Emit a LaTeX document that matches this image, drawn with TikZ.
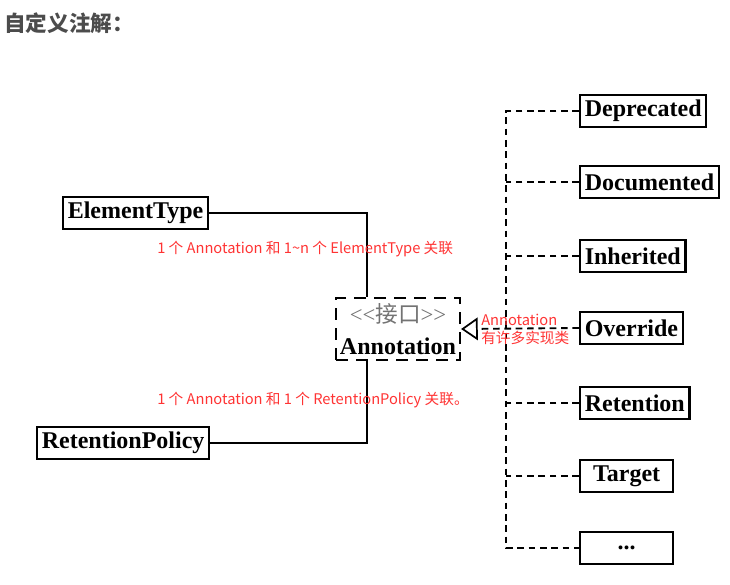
\documentclass[tikz,border=0pt]{standalone}
\usepackage{fontspec}
\setmainfont{Liberation Serif}
\newfontfamily\cjkfont{Noto Sans CJK SC}
\usepackage{xcolor}
\usetikzlibrary{arrows.meta}
\definecolor{notered}{rgb}{1.0, 0.2, 0.2}
\definecolor{titlegray}{rgb}{0.3, 0.3, 0.3}
\definecolor{stereogray}{rgb}{0.45, 0.45, 0.45}

\begin{document}
\begin{tikzpicture}[x=0.75pt, y=-0.75pt,
	box/.style={draw, line width=1.7pt, font=\bfseries\fontsize{18}{20}\selectfont, inner xsep=3.5pt, inner ysep=0pt, minimum height=24pt, anchor=west},
	link/.style={line width=1.5pt},
	dashlink/.style={line width=1.4pt, dash pattern=on 5pt off 3.5pt},
	note/.style={text=notered, font=\cjkfont\fontsize{11}{13.5}\selectfont, inner sep=0pt, anchor=west, align=left}]
\useasboundingbox (0,0) rectangle (730,584);

% title
\node[anchor=west, inner sep=0pt, text=titlegray, font=\cjkfont\bfseries\fontsize{16.2}{18}\selectfont] (title) at (4,23) {自定义注解：};

% interface
\node[draw, line width=1.6pt, dash pattern=on 9pt off 6pt, minimum width=93pt, minimum height=46.5pt, inner sep=0pt, align=center, font=\fontsize{18}{24}\selectfont] (annot) at (398,329)
	{{\color{stereogray}\fontsize{17}{24}\selectfont <{}<{\cjkfont 接口}>{}>}\\{\bfseries Annotation}};
\coordinate (joint) at (367,0);

% associations
\node[box] (etype) at (62,213) {ElementType};
\node[box] (rpolicy) at (36,443) {RetentionPolicy};
\draw[link] (etype.east) -| (joint |- annot.north);
\draw[link] (rpolicy.east) -| (joint |- annot.south);
\node[note] (etnote) at (157,249) {1 个 Annotation 和 1\textasciitilde n 个 ElementType 关联};
\node[note] (rpnote) at (157,400) {1 个 Annotation 和 1 个 RetentionPolicy 关联。};

% implementations
\node[box] (depr) at (579,111) {Deprecated};
\node[box] (docu) at (579,182) {Documented};
\node[box] (inhe) at (579,256) {Inherited};
\node[box] (over) at (579,328) {Override};
\node[box] (rete) at (579,403) {Retention};
\node[box, minimum width=69.75pt] (targ) at (579,476) {Target};
\node[box, minimum width=69.75pt] (more) at (579,548) {...};
\coordinate (spine) at (506,0);

\draw[dashlink] (depr.west) -- (depr.west -| spine) |- (more.west);
\draw[dashlink] (docu.west) -- (docu.west -| spine);
\draw[dashlink] (inhe.west) -- (inhe.west -| spine);
\draw[dashlink] (rete.west) -- (rete.west -| spine);
\draw[dashlink] (targ.west) -- (targ.west -| spine);
\draw[dashlink, -{Triangle[open, length=12.5pt, width=17pt, line width=1.3pt, fill=white]}] (over.west) -- (annot.east);
\node[note] (impnote) at (481,329) {Annotation\\有许多实现类};

\end{tikzpicture}
\end{document}
